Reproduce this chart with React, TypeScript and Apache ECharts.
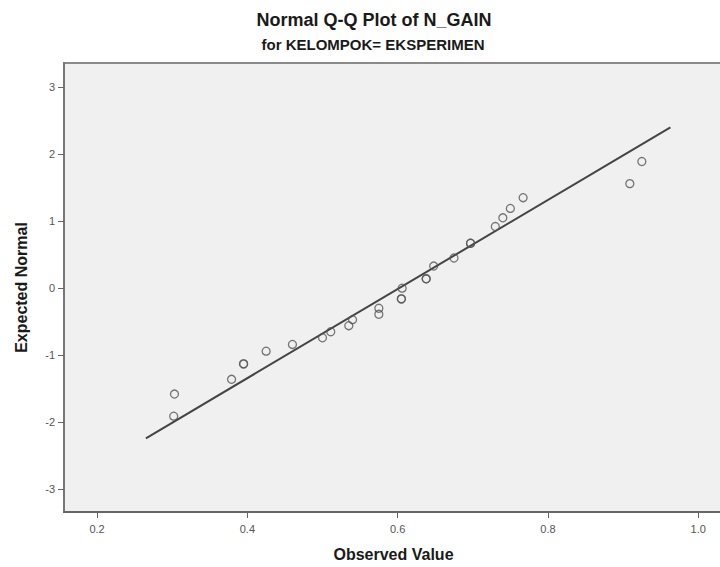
import React, { useEffect, useRef } from "react";
import * as echarts from "echarts";

const titleText = "Normal Q-Q Plot of N_GAIN";
const subtitleText = "for KELOMPOK= EKSPERIMEN";
const xAxisName = "Observed Value";
const yAxisName = "Expected Normal";

const xTicks = [0.2, 0.4, 0.6, 0.8, 1.0];
const yTicks = [-3, -2, -1, 0, 1, 2, 3];

const observed = [
  0.302, 0.303, 0.379, 0.395, 0.395, 0.425, 0.46, 0.5, 0.511, 0.535, 0.54,
  0.575, 0.575, 0.605, 0.605, 0.606, 0.638, 0.638, 0.648, 0.675, 0.697, 0.697,
  0.73, 0.74, 0.75, 0.767, 0.909, 0.925,
];
const expected = [
  -1.91, -1.58, -1.36, -1.13, -1.13, -0.94, -0.84, -0.74, -0.65, -0.56, -0.47,
  -0.39, -0.3, -0.16, -0.16, 0.0, 0.14, 0.14, 0.33, 0.45, 0.67, 0.67, 0.92, 1.05,
  1.19, 1.35, 1.56, 1.89,
];

const lineX = [0.265, 0.963];
const lineY = [-2.24, 2.4];

export default function App() {
  const ref = useRef<HTMLDivElement>(null);
  useEffect(() => {
    if (!ref.current) return;
    const chart = echarts.init(ref.current, null, { renderer: "svg" });
    const font = "'Liberation Sans', Arial, sans-serif";
    chart.setOption({
      animation: false,
      backgroundColor: "#ffffff",
      title: [
        {
          text: titleText,
          left: 369,
          top: 6,
          textAlign: "center",
          textStyle: { fontFamily: font, fontSize: 18, fontWeight: "bold", color: "#1a1a1a" },
        },
        {
          text: subtitleText,
          left: 368,
          top: 32,
          textAlign: "center",
          textStyle: { fontFamily: font, fontSize: 15, fontWeight: "bold", color: "#1a1a1a" },
        },
      ],
      grid: {
        left: 64,
        right: -3,
        top: 63,
        bottom: 55,
        outerBoundsMode: "none",
        containLabel: false,
        show: true,
        backgroundColor: "#f0f0f0",
        borderColor: "#8a8a8a",
        borderWidth: 2,
      },
      xAxis: {
        type: "value",
        min: 0.156,
        max: 1.033,
        name: xAxisName,
        nameLocation: "middle",
        nameGap: 34,
        nameTextStyle: { fontFamily: font, fontSize: 16, fontWeight: "bold", color: "#1a1a1a" },
        axisLine: { show: true, onZero: false, lineStyle: { color: "#666", width: 2 } },
        axisTick: { show: true, length: 6, customValues: xTicks, lineStyle: { color: "#666" } },
        axisLabel: {
          customValues: xTicks,
          formatter: (v: number) => v.toFixed(1),
          fontFamily: font,
          fontSize: 11,
          color: "#555",
          margin: 11,
        },
        splitLine: { show: false },
      },
      yAxis: {
        type: "value",
        min: -3.34,
        max: 3.36,
        name: yAxisName,
        nameLocation: "middle",
        nameGap: 35,
        nameTextStyle: { fontFamily: font, fontSize: 16, fontWeight: "bold", color: "#1a1a1a" },
        axisLine: { show: true, onZero: false, lineStyle: { color: "#777", width: 2 } },
        axisTick: { show: true, length: 6, customValues: yTicks, lineStyle: { color: "#666" } },
        axisLabel: {
          customValues: yTicks,
          formatter: (v: number) => String(v),
          fontFamily: font,
          fontSize: 11,
          color: "#555",
          margin: 9,
        },
        splitLine: { show: false },
      },
      series: [
        {
          type: "line",
          data: lineX.map((x, i) => [x, lineY[i]]),
          symbol: "none",
          lineStyle: { color: "#444", width: 2 },
          silent: true,
          z: 2,
        },
        {
          type: "scatter",
          data: observed.map((x, i) => [x, expected[i]]),
          symbol: "circle",
          symbolSize: 8,
          itemStyle: { color: "transparent", borderColor: "#555", borderWidth: 1.3 },
          z: 3,
        },
      ],
    });
    return () => chart.dispose();
  }, []);
  return (
    <div
      ref={ref}
      style={{ position: "fixed", left: 0, top: 0, width: 720, height: 567 }}
    />
  );
}
